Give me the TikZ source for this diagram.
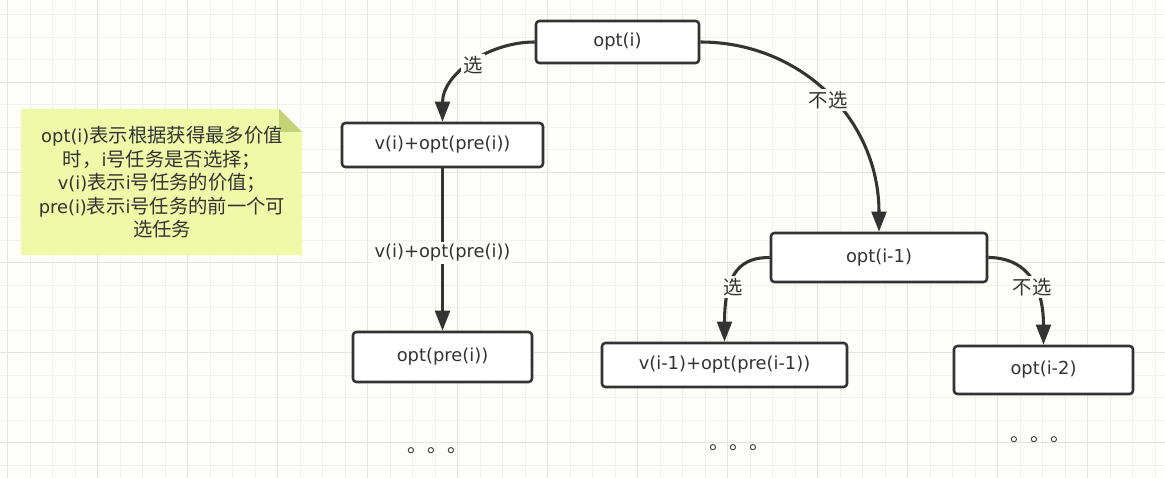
\documentclass[tikz,border=0pt]{standalone}
\usepackage{fontspec}
\setmainfont{DejaVu Sans}
\newfontfamily\cjk{Noto Sans CJK SC}
\usetikzlibrary{arrows.meta}
\definecolor{bg}{RGB}{253,253,250}
\definecolor{gridminor}{RGB}{241,241,238}
\definecolor{gridmajor}{RGB}{228,228,225}
\definecolor{ink}{RGB}{51,51,51}
\definecolor{notefill}{RGB}{238,250,168}
\definecolor{notefold}{RGB}{196,210,122}
\newcommand\latinfont{\fontsize{13.4pt}{17.6pt}\selectfont}
\newcommand\zh[1]{{\cjk\fontsize{14.5pt}{17.6pt}\selectfont #1}}
\begin{document}
\begin{tikzpicture}[x=0.75pt,y=-0.75pt,
  box/.style={draw=ink, line width=1.9pt, rounded corners=2.5pt, fill=white,
    inner sep=0pt, font=\latinfont, text=ink},
  conn/.style={draw=ink, line width=2.3pt, -{Triangle[length=15pt,width=11pt]}},
  lbl/.style={fill=bg, inner sep=1.5pt, text=ink, font=\latinfont},
  dots/.style={anchor=base west, inner sep=0pt, text=ink, font=\cjk\fontsize{15pt}{18pt}\selectfont},
]
% background and grid
\fill[bg] (0,0) rectangle (1165,478);
\useasboundingbox (0,0) rectangle (1165,478);
\foreach \gx in {7.5,30,...,1160} \draw[gridminor, line width=0.75pt] (\gx,0) -- (\gx,478);
\foreach \gy in {15,37.5,...,475} \draw[gridminor, line width=0.75pt] (0,\gy) -- (1165,\gy);
\foreach \gx in {7.5,97.5,...,1160} \draw[gridmajor, line width=0.75pt] (\gx,0) -- (\gx,478);
\foreach \gy in {82.5,172.5,...,475} \draw[gridmajor, line width=0.75pt] (0,\gy) -- (1165,\gy);

% note
\fill[notefill] (21,109) -- (279,109) -- (302,132) -- (302,255) -- (21,255) -- cycle;
\fill[notefold] (279,109) -- (302,132) -- (279,132) -- cycle;
\node[align=center, text=ink, font=\latinfont, inner sep=0pt] (note) at (162,182.5)
  {opt(i)\zh{表示根据获得最多价值}\\
   \zh{时，}i\zh{号任务是否选择；}\\
   v(i)\zh{表示}i\zh{号任务的价值；}\\
   pre(i)\zh{表示}i\zh{号任务的前一个可}\\
   \zh{选任务}};

% boxes
\node[box, minimum width=122.25pt, minimum height=31.5pt] (top) at (617.5,42) {opt(i)};
\node[box, minimum width=150.75pt, minimum height=33pt] (v1) at (442.5,145) {v(i)+opt(pre(i))};
\node[box, minimum width=134.25pt, minimum height=37.5pt] (p1) at (442.5,357) {opt(pre(i))};
\node[box, minimum width=162pt, minimum height=36.75pt] (m) at (879,257.5) {opt(i-1)};
\node[box, minimum width=183.75pt, minimum height=33pt] (v2) at (724.5,365) {v(i-1)+opt(pre(i-1))};
\node[box, minimum width=134.25pt, minimum height=36pt] (r) at (1043.5,370) {opt(i-2)};

% connectors
\draw[conn] (top.west) .. controls +(-46,0) and +(0,-48) .. (v1.north);
\draw[conn] (top.east) .. controls +(100,0) and +(0,-113) .. (m.north);
\draw[conn] (v1.south) -- (p1.north);
\draw[conn] (m.west) .. controls +(-26,0) and +(0,-73) .. (v2.north);
\draw[conn] (m.east) .. controls +(33,0) and +(0,-66) .. (r.north);

% connector labels
\node[lbl] (l1) at (473,65) {\zh{选}};
\node[lbl] (l2) at (828,100) {\zh{不选}};
\node[lbl] (l3) at (442.5,253) {v(i)+opt(pre(i))};
\node[lbl] (l4) at (733,287) {\zh{选}};
\node[lbl] (l5) at (1032,287) {\zh{不选}};

% continuation marks
\node[dots] (d1) at (406.8,452.2) {。。。};
\node[dots] (d2) at (709.3,449.2) {。。。};
\node[dots] (d3) at (1009.8,441.2) {。。。};
\end{tikzpicture}
\end{document}
